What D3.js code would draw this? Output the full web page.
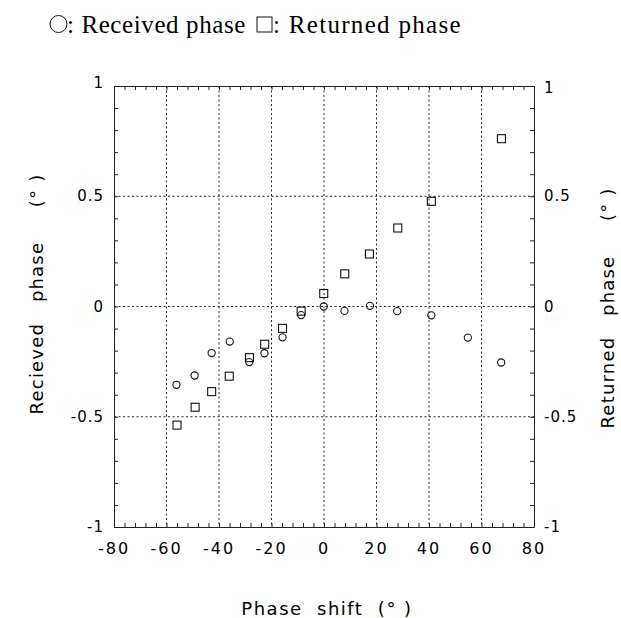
<!DOCTYPE html>
<html>
<head>
<meta charset="utf-8">
<script src="https://d3js.org/d3.v7.min.js"></script>
<style>
  body { margin: 0; background: #fff; }
  svg { display: block; }
</style>
</head>
<body>
<script>
// phase shift (deg) for each measurement
var shiftRecv = [-56.2, -49.3, -42.8, -35.9, -28.5, -22.7, -15.8, -8.7, -0.1, 7.8, 17.5, 27.9, 40.9, 54.8, 67.5];
var recvPhase = [-0.355, -0.313, -0.211, -0.159, -0.252, -0.212, -0.140, -0.039, 0.0, -0.020, 0.003, -0.021, -0.040, -0.141, -0.254];

var shiftRet = [-56.0, -49.1, -42.8, -36.1, -28.4, -22.6, -15.8, -8.7, -0.1, 7.9, 17.3, 28.1, 40.9, 67.6];
var retPhase = [-0.538, -0.457, -0.386, -0.316, -0.232, -0.171, -0.099, -0.021, 0.059, 0.148, 0.238, 0.356, 0.477, 0.761];

var xTicks = [-80, -60, -40, -20, 0, 20, 40, 60, 80];
var yTicks = [-1, -0.5, 0, 0.5, 1];

var W = 621, H = 618;
var margin = {top: 86, right: 87, bottom: 91, left: 114};

var svg = d3.select("body").append("svg")
    .attr("width", W)
    .attr("height", H);

var x = d3.scaleLinear().domain([-80, 80]).range([margin.left, W - margin.right]);
var y = d3.scaleLinear().domain([-1, 1]).range([H - margin.bottom, margin.top]);

var tickFont = "DejaVu Sans, sans-serif";

// grid
var grid = svg.append("g")
    .attr("stroke", "#222")
    .attr("stroke-width", 1)
    .attr("stroke-dasharray", "2,2.5");
grid.selectAll("line.gx")
    .data(xTicks.filter(d => d > -80 && d < 80))
    .enter().append("line")
    .attr("x1", d => x(d)).attr("x2", d => x(d))
    .attr("y1", y(1)).attr("y2", y(-1));
grid.selectAll("line.gy")
    .data(yTicks.filter(d => d > -1 && d < 1))
    .enter().append("line")
    .attr("x1", x(-80)).attr("x2", x(80))
    .attr("y1", d => y(d)).attr("y2", d => y(d));

// axes with inward minor ticks
var minorX = d3.range(-80, 80.1, 4);
var minorY = d3.range(-10, 10.1, 1).map(d => d / 10);

function styleAxis(g) {
  g.select(".domain").attr("stroke", "#222");
  g.selectAll(".tick line").attr("stroke", "#222");
  g.selectAll("text").remove();
}

svg.append("g")
    .attr("transform", `translate(0,${y(-1)})`)
    .call(d3.axisBottom(x).tickValues(minorX).tickSize(-4).tickSizeOuter(0))
    .call(styleAxis);
svg.append("g")
    .attr("transform", `translate(0,${y(1)})`)
    .call(d3.axisTop(x).tickValues(minorX).tickSize(-4).tickSizeOuter(0))
    .call(styleAxis);
svg.append("g")
    .attr("transform", `translate(${x(-80)},0)`)
    .call(d3.axisLeft(y).tickValues(minorY).tickSize(-4).tickSizeOuter(0))
    .call(styleAxis);
svg.append("g")
    .attr("transform", `translate(${x(80)},0)`)
    .call(d3.axisRight(y).tickValues(minorY).tickSize(-4).tickSizeOuter(0))
    .call(styleAxis);

// plain hyphen for negatives, as in the scan
var fmtY = d => String(d);

// tick labels
svg.append("g").selectAll("text")
    .data(xTicks).enter().append("text")
    .attr("x", d => x(d))
    .attr("y", y(-1) + 27)
    .attr("text-anchor", "middle")
    .attr("font-family", tickFont)
    .attr("font-size", 16)
    .attr("letter-spacing", 2)
    .text(d => d);

svg.append("g").selectAll("text")
    .data(yTicks).enter().append("text")
    .attr("x", x(-80) - 10)
    .attr("y", d => y(d) + 5 - (d === 1 ? 3 : 0))
    .attr("text-anchor", "end")
    .attr("font-family", tickFont)
    .attr("font-size", 15)
    .attr("letter-spacing", 1)
    .text(fmtY);

svg.append("g").selectAll("text")
    .data(yTicks).enter().append("text")
    .attr("x", x(80) + 10)
    .attr("y", d => y(d) + 5 + (d === 1 ? 2 : 0))
    .attr("text-anchor", "start")
    .attr("font-family", tickFont)
    .attr("font-size", 15)
    .attr("letter-spacing", 1)
    .text(fmtY);

// axis titles
svg.append("text")
    .attr("x", 327)
    .attr("y", 615)
    .attr("text-anchor", "middle")
    .attr("font-family", tickFont)
    .attr("font-size", 18)
    .attr("letter-spacing", 1.5)
    .attr("xml:space", "preserve")
    .text("Phase  shift  (\u00b0 )");

svg.append("text")
    .attr("transform", "translate(43,294) rotate(-90)")
    .attr("text-anchor", "middle")
    .attr("font-family", tickFont)
    .attr("font-size", 18)
    .attr("letter-spacing", 1.2)
    .attr("xml:space", "preserve")
    .text("Recieved   phase     (\u00b0 )");

svg.append("text")
    .attr("transform", "translate(614,308) rotate(-90)")
    .attr("text-anchor", "middle")
    .attr("font-family", tickFont)
    .attr("font-size", 18)
    .attr("letter-spacing", 1.2)
    .attr("xml:space", "preserve")
    .text("Returned   phase     (\u00b0 )");

// data marks
svg.append("g").selectAll("circle")
    .data(d3.zip(shiftRecv, recvPhase)).enter().append("circle")
    .attr("cx", d => x(d[0]))
    .attr("cy", d => y(d[1]))
    .attr("r", 3.6)
    .attr("fill", "none")
    .attr("stroke", "#111")
    .attr("stroke-width", 1.1);

svg.append("g").selectAll("rect")
    .data(d3.zip(shiftRet, retPhase)).enter().append("rect")
    .attr("x", d => x(d[0]) - 4)
    .attr("y", d => y(d[1]) - 4)
    .attr("width", 8)
    .attr("height", 8)
    .attr("fill", "none")
    .attr("stroke", "#111")
    .attr("stroke-width", 1.1);

// legend
var legFont = "Liberation Serif, Times New Roman, serif";
var leg = svg.append("g");
leg.append("circle")
    .attr("cx", 58.5).attr("cy", 24).attr("r", 8.5)
    .attr("fill", "none").attr("stroke", "#111").attr("stroke-width", 1);
leg.append("text")
    .attr("x", 67).attr("y", 33)
    .attr("font-family", legFont)
    .attr("font-size", 25)
    .attr("letter-spacing", 0.6)
    .text(": Received phase");
leg.append("rect")
    .attr("x", 257).attr("y", 17).attr("width", 15).attr("height", 15)
    .attr("fill", "none").attr("stroke", "#111").attr("stroke-width", 1);
leg.append("text")
    .attr("x", 273).attr("y", 33)
    .attr("font-family", legFont)
    .attr("font-size", 25)
    .attr("letter-spacing", 1.3)
    .text(": Returned phase");
</script>
</body>
</html>
